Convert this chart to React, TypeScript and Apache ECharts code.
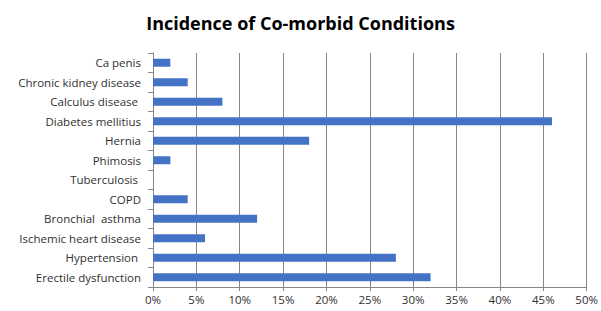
import React, { useEffect, useRef } from "react";
import * as echarts from "echarts";

const categories = [
  "Ca penis",
  "Chronic kidney disease",
  "Calculus disease ",
  "Diabetes mellitius",
  "Hernia",
  "Phimosis",
  "Tuberculosis ",
  "COPD",
  "Bronchial  asthma",
  "Ischemic heart disease",
  "Hypertension ",
  "Erectile dysfunction",
];
const values = [2, 4, 8, 46, 18, 2, 0, 4, 12, 6, 28, 32];
const titleText = "Incidence of Co-morbid Conditions";

export default function App() {
  const ref = useRef<HTMLDivElement>(null);
  useEffect(() => {
    if (!ref.current) return;
    const chart = echarts.init(ref.current, null, { renderer: "svg" });
    chart.setOption({
      animation: false,
      backgroundColor: "#ffffff",
      title: {
        text: titleText,
        left: "center",
        top: 9,
        textStyle: {
          fontFamily: "Open Sans",
          fontWeight: "bold",
          fontSize: 18,
          color: "#000000",
        },
      },
      grid: { left: 153, right: 12, top: 53, bottom: 24, containLabel: false },
      xAxis: {
        type: "value",
        min: 0,
        max: 50,
        interval: 5,
        axisLabel: {
          formatter: "{value}%",
          fontFamily: "Open Sans",
          fontSize: 11.5,
          color: "#303030",
          margin: 6,
        },
        axisLine: { show: true, lineStyle: { color: "#868686", width: 1 } },
        axisTick: { show: true, length: 4, lineStyle: { color: "#868686" } },
        splitLine: { show: true, lineStyle: { color: "#868686", width: 1 } },
      },
      yAxis: {
        type: "category",
        data: categories,
        inverse: true,
        axisLabel: {
          fontFamily: "Open Sans",
          fontSize: 11.5,
          color: "#303030",
          margin: 12,
        },
        axisLine: { show: true, lineStyle: { color: "#868686", width: 1 } },
        axisTick: { show: true, length: 5, alignWithLabel: false, lineStyle: { color: "#868686" } },
        splitLine: { show: false },
      },
      series: [
        {
          type: "bar",
          data: values,
          barWidth: 8,
          itemStyle: { color: "#4472C4" },
        },
      ],
    });
    return () => chart.dispose();
  }, []);
  return (
    <div
      ref={ref}
      style={{ position: "fixed", left: 0, top: 0, width: 601, height: 311 }}
    />
  );
}
